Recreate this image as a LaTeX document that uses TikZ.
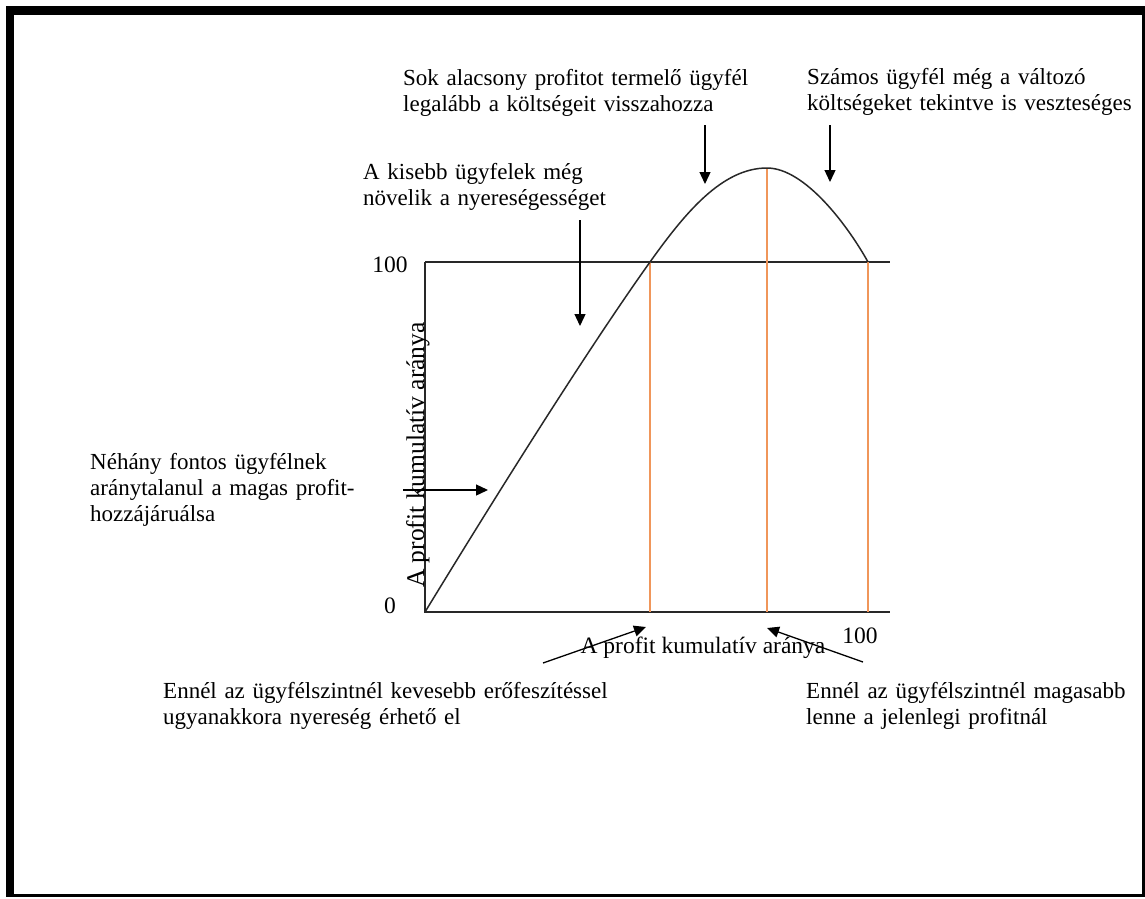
\documentclass[tikz,border=0pt]{standalone}
\usepackage{fontspec}
\setmainfont{Liberation Serif}
\usetikzlibrary{arrows.meta}
\definecolor{guide}{RGB}{240,150,90}
\definecolor{ink}{RGB}{40,40,40}
\begin{document}
\begin{tikzpicture}[x=1pt,y=-1pt,
  lbl/.style={inner sep=0pt, font=\fontsize{23}{26}\selectfont, align=left, text width=470pt, anchor=base west},
  num/.style={inner sep=0pt, font=\fontsize{23.5}{26}\selectfont, anchor=base},
  axis/.style={draw=ink, line width=1.4pt},
  curve/.style={draw=ink, line width=1.5pt},
  guideline/.style={draw=guide, line width=1.3pt},
  pointer/.style={draw=black, line width=1.3pt, -{Triangle[length=12pt,width=11pt]}}]
% page and frame
\useasboundingbox (0,0) rectangle (1145,898);
\fill[white] (0,0) rectangle (1145,898);
\fill[black] (6,6) rectangle (1145,897);
\fill[white] (14,15) rectangle (1142,894);

% axes and the 100 % level
\coordinate (O) at (425,612);
\coordinate (Ytop) at (425,262);
\coordinate (Xend) at (890,612);
\coordinate (Tend) at (890,262);
\draw[axis] (Ytop) -- (O) -- (Xend);
\draw[axis] (Ytop) -- (Tend);

% cumulative profit curve
\coordinate (C1) at (650,262);
\coordinate (Cpk) at (767,168);
\coordinate (C3) at (868,262);
\coordinate (F1) at (650,612);
\coordinate (F2) at (767,612);
\coordinate (F3) at (868,612);
\draw[guideline] (C1) -- (F1);
\draw[guideline] (Cpk) -- (F2);
\draw[guideline] (C3) -- (F3);
\draw[curve] (O) .. controls (500,489) and (590,346) .. (C1)
  .. controls (685,213) and (722,168) .. (Cpk)
  .. controls (805,168) and (848,226) .. (C3);

% axis numbers and titles
\node[num] (n100y) at (390,272) {100};
\node[num] (n0) at (390,613) {0};
\node[num] (n100x) at (860,643) {100};
\node[num] (xlab) at (703,653) {A profit kumulatív aránya};
\node[num, font=\fontsize{25.5}{28}\selectfont, rotate=90] (ylab) at (424,455) {A profit kumulatív aránya};

% annotations
\node[lbl] (tSok) at (403,85) {Sok alacsony profitot termelő ügyfél\\legalább a költségeit visszahozza};
\node[lbl] (tSzam) at (807,84) {Számos ügyfél még a változó\\költségeket tekintve is veszteséges};
\node[lbl] (tKis) at (363,179) {A kisebb ügyfelek még\\növelik a nyereségességet};
\node[lbl] (tNeh) at (90,469) {Néhány fontos ügyfélnek\\aránytalanul a magas profit-\\hozzájáruálsa};
\node[lbl] (tLeft) at (163,698) {Ennél az ügyfélszintnél kevesebb erőfeszítéssel\\ugyanakkora nyereség érhető el};
\node[lbl] (tRight) at (806,698) {Ennél az ügyfélszintnél magasabb\\lenne a jelenlegi profitnál};

% pointers
\coordinate (a1s) at (705,125); \coordinate (a1e) at (705,184);
\coordinate (a2s) at (830,125); \coordinate (a2e) at (830,182);
\coordinate (a3s) at (580,220); \coordinate (a3e) at (580,326);
\coordinate (a4s) at (403,490); \coordinate (a4e) at (488,490);
\coordinate (a5s) at (543,663); \coordinate (a5e) at (646,627);
\coordinate (a6s) at (863,662); \coordinate (a6e) at (767,628);
\draw[pointer] (a1s) -- (a1e);
\draw[pointer] (a2s) -- (a2e);
\draw[pointer] (a3s) -- (a3e);
\draw[pointer] (a4s) -- (a4e);
\draw[pointer] (a5s) -- (a5e);
\draw[pointer] (a6s) -- (a6e);
\end{tikzpicture}
\end{document}
